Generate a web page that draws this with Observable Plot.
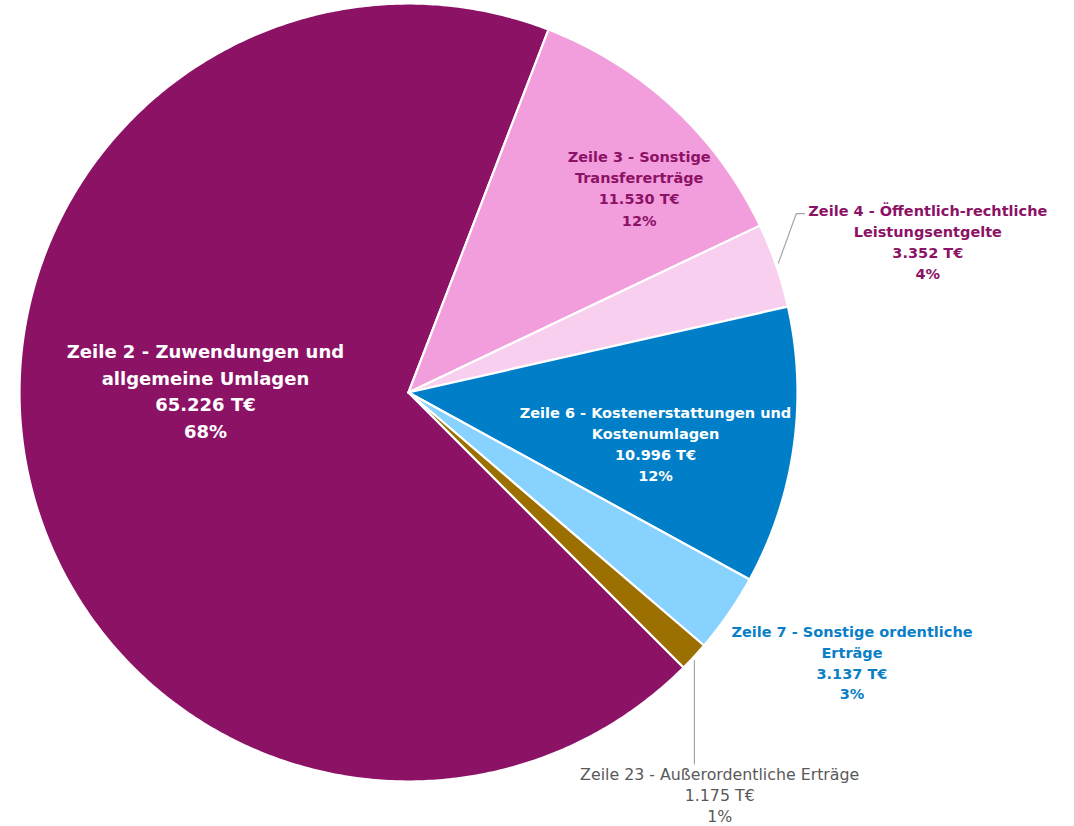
<!DOCTYPE html>
<html>
<head>
<meta charset="utf-8">
<script src="https://cdn.jsdelivr.net/npm/d3@7"></script>
<script src="https://cdn.jsdelivr.net/npm/@observablehq/plot@0.6"></script>
<style>
  html, body { margin: 0; padding: 0; background: #ffffff; }
  #chart svg { display: block; }
</style>
</head>
<body>
<div id="chart"></div>
<script>
// ---- data ----
const categories = [
  "Zeile 2 - Zuwendungen und allgemeine Umlagen",
  "Zeile 3 - Sonstige Transfererträge",
  "Zeile 4 - Öffentlich-rechtliche Leistungsentgelte",
  "Zeile 6 - Kostenerstattungen und Kostenumlagen",
  "Zeile 7 - Sonstige ordentliche Erträge",
  "Zeile 23 - Außerordentliche Erträge"
];
const values = [65226, 11530, 3352, 10996, 3137, 1175];
const valueLabels = ["65.226 T€", "11.530 T€", "3.352 T€", "10.996 T€", "3.137 T€", "1.175 T€"];
const percentLabels = ["68%", "12%", "4%", "12%", "3%", "1%"];
const labelLines = [
  "Zeile 2 - Zuwendungen und\nallgemeine Umlagen",
  "Zeile 3 - Sonstige\nTransfererträge",
  "Zeile 4 - Öffentlich-rechtliche\nLeistungsentgelte",
  "Zeile 6 - Kostenerstattungen und\nKostenumlagen",
  "Zeile 7 - Sonstige ordentliche\nErträge",
  "Zeile 23 - Außerordentliche Erträge"
];

// ---- styling / layout (not data) ----
const colors = ["#8c1266", "#f29ddc", "#f8cfee", "#007fc8", "#87d2ff", "#9b7000"];
const textColors = ["#ffffff", "#8c1266", "#8c1266", "#ffffff", "#0a7fc8", "#595959"];
const fontWeights = ["bold", "bold", "bold", "bold", "bold", "normal"];
const fontSizes = [18, 14.5, 14.5, 14.5, 14.5, 15.8];
const lineHeights = [1.47, 1.46, 1.45, 1.45, 1.42, 1.33];
// label anchor positions in pie units (radius = 1, centre = 0,0)
const labelPos = [
  [-0.522, 0.008], [0.593, 0.528], [1.335, 0.390], [0.635, -0.130], [1.14, -0.692], [0.80, -1.032]
];
const W = 1074, H = 826, CX = 408, CY = 392, R = 389;
const startDeg = 135;

// build slice polygons
const total = d3.sum(values);
const pts = [];
let a0 = startDeg;
values.forEach((v, i) => {
  const span = v / total * 360;
  const a1 = a0 + span;
  pts.push({k: i, x: 0, y: 0});
  const n = Math.max(4, Math.ceil(span / 0.5));
  for (let j = 0; j <= n; j++) {
    const a = (a0 + span * j / n) * Math.PI / 180;
    pts.push({k: i, x: Math.sin(a), y: Math.cos(a)});
  }
  pts.push({k: i, x: 0, y: 0});
  a0 = a1;
});

const labels = categories.map((c, i) => ({
  i,
  x: labelPos[i][0], y: labelPos[i][1],
  text: labelLines[i] + "\n" + valueLabels[i] + "\n" + percentLabels[i]
}));

// leader lines (pie units)
const leaders = [
  {g: 0, x: 0.951, y: 0.333}, {g: 0, x: 0.997, y: 0.460}, {g: 0, x: 1.018, y: 0.460},
  {g: 1, x: 0.735, y: -0.689}, {g: 1, x: 0.735, y: -0.955}
];

const xDomain = [-CX / R, (W - CX) / R];
const yDomain = [-(H - CY) / R, CY / R];

const marks = [
  Plot.line(pts, {x: "x", y: "y", z: "k", fill: d => colors[d.k], stroke: "#ffffff", strokeWidth: 2.2, strokeLinejoin: "round", curve: "linear"}),
  Plot.line(leaders, {x: "x", y: "y", z: "g", stroke: "#a6a6a6", strokeWidth: 1.2})
];
labels.forEach(l => {
  marks.push(Plot.text([l], {
    x: "x", y: "y", text: "text",
    fill: textColors[l.i], fontWeight: fontWeights[l.i], fontSize: fontSizes[l.i],
    lineHeight: lineHeights[l.i],
    textAnchor: "middle", frameAnchor: "middle",
    fontFamily: "'DejaVu Sans', sans-serif"
  }));
});

const plot = Plot.plot({
  width: W, height: H,
  margin: 0,
  x: {domain: xDomain, range: [0, W], axis: null},
  y: {domain: yDomain, range: [H, 0], axis: null},
  style: {background: "#ffffff", fontFamily: "'DejaVu Sans', sans-serif"},
  marks
});
document.getElementById("chart").appendChild(plot);
</script>
</body>
</html>
